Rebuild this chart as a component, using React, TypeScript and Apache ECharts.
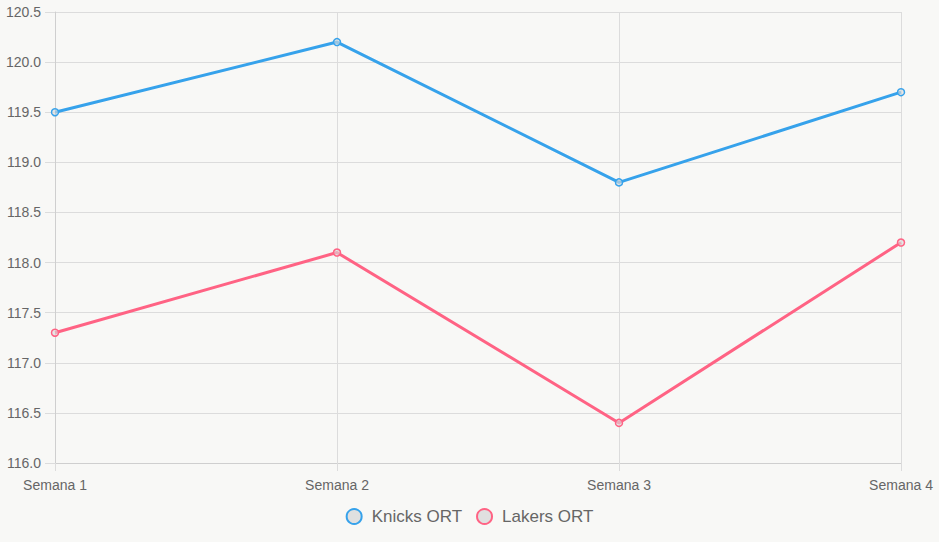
import React, { useEffect, useRef } from "react";
import * as echarts from "echarts";

const weeks = ["Semana 1", "Semana 2", "Semana 3", "Semana 4"];
const knicksOrt = [119.5, 120.2, 118.8, 119.7];
const lakersOrt = [117.3, 118.1, 116.4, 118.2];
const seriesNames = ["Knicks ORT", "Lakers ORT"];

const BLUE = "#36a2eb";
const PINK = "#ff6384";
const FONT = "'Liberation Sans', Arial, Helvetica, sans-serif";

export default function App() {
  const ref = useRef<HTMLDivElement>(null);

  useEffect(() => {
    if (!ref.current) return;
    const chart = echarts.init(ref.current, null, { renderer: "svg" });
    const line = (name: string, data: number[], color: string) => ({
      name,
      type: "line",
      data,
      symbol: "circle",
      symbolSize: 7,
      showSymbol: true,
      lineStyle: { color, width: 3 },
      itemStyle: { color: "rgba(220,220,220,0.6)", borderColor: color, borderWidth: 1.5 },
      emphasis: { disabled: true },
    });
    chart.setOption({
      animation: false,
      backgroundColor: "#f8f8f6",
      textStyle: { fontFamily: FONT },
      grid: { left: 55, right: 38, top: 12, bottom: 79, containLabel: false },
      legend: {
        bottom: 12,
        left: "center",
        icon: "circle",
        itemWidth: 15,
        itemHeight: 15,
        itemGap: 14,
        textStyle: { color: "#666", fontSize: 17, fontFamily: FONT, padding: [0, 0, 0, 5] },
        data: [
          { name: seriesNames[0], itemStyle: { color: "#e0e0e0", borderColor: BLUE, borderWidth: 2 } },
          { name: seriesNames[1], itemStyle: { color: "#e0e0e0", borderColor: PINK, borderWidth: 2 } },
        ],
      },
      xAxis: {
        type: "category",
        data: weeks,
        boundaryGap: false,
        axisLine: { show: true, lineStyle: { color: "#cfcfcf", width: 1 } },
        axisTick: { show: true, length: 8, lineStyle: { color: "#dcdcdc" } },
        axisLabel: { color: "#666", fontSize: 14, margin: 15 },
        splitLine: { show: true, lineStyle: { color: "#dcdcdc", width: 1 } },
      },
      yAxis: {
        type: "value",
        min: 116,
        max: 120.5,
        interval: 0.5,
        axisLine: { show: true, lineStyle: { color: "#cfcfcf", width: 1 } },
        axisTick: { show: true, length: 10, lineStyle: { color: "#dcdcdc" } },
        axisLabel: {
          color: "#666",
          fontSize: 14,
          margin: 14,
          formatter: (v: number) => v.toFixed(1),
        },
        splitLine: { show: true, lineStyle: { color: "#dcdcdc", width: 1 } },
      },
      series: [line(seriesNames[0], knicksOrt, BLUE), line(seriesNames[1], lakersOrt, PINK)],
    });
    return () => chart.dispose();
  }, []);

  return (
    <div
      ref={ref}
      style={{ position: "absolute", left: 0, top: 0, width: 939, height: 542 }}
    />
  );
}
